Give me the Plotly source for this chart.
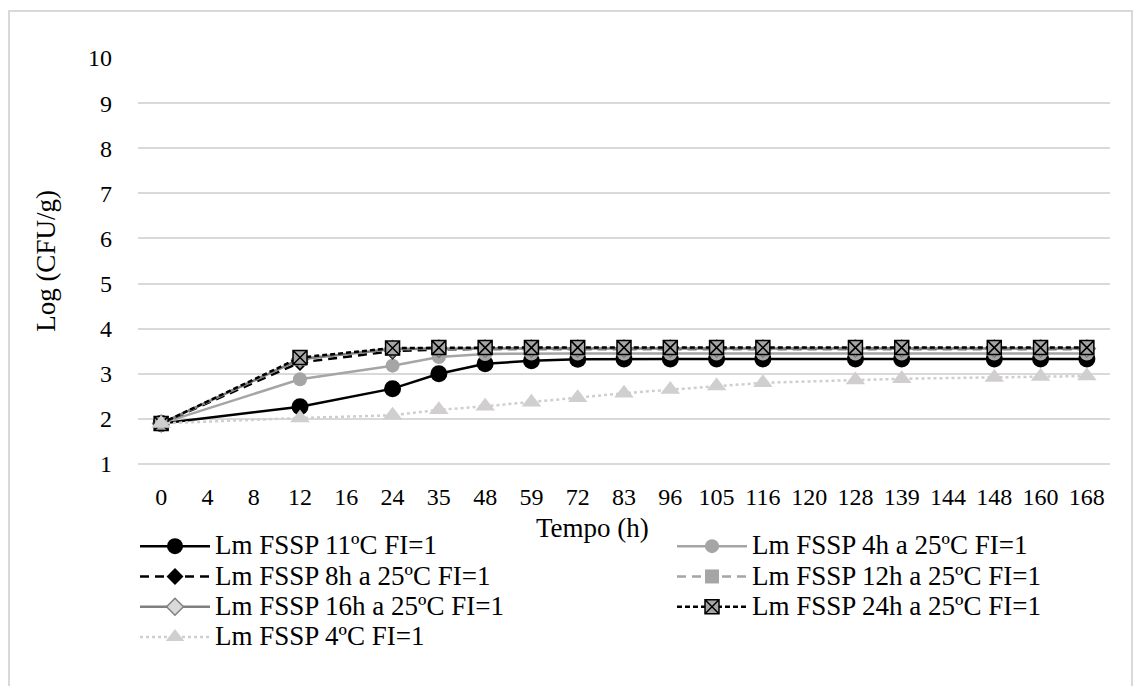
import plotly.graph_objects as go

# Category axis (tick labels) and measured times
tick_labels = ["0", "4", "8", "12", "16", "24", "35", "48", "59", "72", "83", "96",
               "105", "116", "120", "128", "139", "144", "148", "160", "168"]
times = ["0", "12", "24", "35", "48", "59", "72", "83", "96", "105", "116",
         "128", "139", "148", "160", "168"]

series_names = ["Lm FSSP 11ºC FI=1", "Lm FSSP 4h a 25ºC FI=1", "Lm FSSP 8h a 25ºC FI=1",
                "Lm FSSP 12h a 25ºC FI=1", "Lm FSSP 16h a 25ºC FI=1",
                "Lm FSSP 24h a 25ºC FI=1", "Lm FSSP 4ºC FI=1"]

lm_11c = [1.9, 2.27, 2.67, 3.0, 3.22, 3.29, 3.32, 3.33, 3.33, 3.33, 3.33, 3.33, 3.33, 3.33, 3.33, 3.33]
lm_4h = [1.9, 2.88, 3.18, 3.37, 3.44, 3.45, 3.45, 3.45, 3.45, 3.45, 3.45, 3.45, 3.45, 3.45, 3.45, 3.45]
lm_8h = [1.9, 3.25, 3.5, 3.54, 3.55, 3.55, 3.55, 3.55, 3.55, 3.55, 3.55, 3.55, 3.55, 3.55, 3.55, 3.55]
lm_12h = [1.9, 3.33, 3.55, 3.56, 3.56, 3.56, 3.56, 3.56, 3.56, 3.56, 3.56, 3.56, 3.56, 3.56, 3.56, 3.56]
lm_16h = [1.9, 3.32, 3.55, 3.56, 3.56, 3.56, 3.56, 3.56, 3.56, 3.56, 3.56, 3.56, 3.56, 3.56, 3.56, 3.56]
lm_24h = [1.9, 3.36, 3.57, 3.58, 3.58, 3.58, 3.58, 3.58, 3.58, 3.58, 3.58, 3.58, 3.58, 3.58, 3.58, 3.58]
lm_4c = [1.9, 2.02, 2.08, 2.2, 2.28, 2.37, 2.47, 2.57, 2.65, 2.73, 2.8, 2.86, 2.89, 2.92, 2.94, 2.95]

x_title = "Tempo (h)"
y_title = "Log (CFU/g)"

FONT = "Liberation Serif"
LEG_TXT = 27

fig = go.Figure()

def add(name, y, line, marker, legend):
    fig.add_trace(go.Scatter(
        x=times, y=y, name=f'<span style="font-size:{LEG_TXT}px">{name}</span>',
        mode="lines+markers", line=line, marker=marker, legend=legend, connectgaps=True,
    ))

add(series_names[0], lm_11c, dict(color="#000000", width=2.5),
    dict(symbol="circle", size=17, color="#000000"), "legend")
add(series_names[1], lm_4h, dict(color="#a5a5a5", width=2.5),
    dict(symbol="circle", size=14, color="#a5a5a5"), "legend2")
add(series_names[2], lm_8h, dict(color="#000000", width=2.5, dash="9px,6px"),
    dict(symbol="diamond", size=13, color="#000000"), "legend")
add(series_names[3], lm_12h, dict(color="#a5a5a5", width=2.5, dash="9px,6px"),
    dict(symbol="square", size=14, color="#a5a5a5"), "legend2")
add(series_names[4], lm_16h, dict(color="#808080", width=2.5),
    dict(symbol="diamond", size=13, color="#d9d9d9", line=dict(color="#808080", width=1.5)), "legend")
add(series_names[5], lm_24h, dict(color="#000000", width=2.5, dash="5px,3px"),
    dict(symbol="square-x", size=14, color="#a5a5a5", line=dict(color="#000000", width=1.5)), "legend2")
add(series_names[6], lm_4c, dict(color="#d0cece", width=2.5, dash="dot"),
    dict(symbol="triangle-up", size=17, color="#d0cece"), "legend")

L, R, T, B = 138, 23, 58, 222
W, H = 1133, 686
pw, ph = W - L - R, H - T - B

def px(x):
    return (x - L) / pw

def py(y):
    return (H - B - y) / ph

fig.update_layout(
    width=W, height=H,
    margin=dict(l=L, r=R, t=T, b=B),
    paper_bgcolor="white", plot_bgcolor="white",
    font=dict(family=FONT, size=24, color="#000000"),
    showlegend=True,
    legend=dict(x=px(135), y=py(526), xanchor="left", yanchor="top",
                orientation="v", font=dict(family=FONT, size=21, color="#000000"),
                bgcolor="rgba(0,0,0,0)", itemwidth=70, tracegroupgap=0),
    legend2=dict(x=px(672), y=py(526), xanchor="left", yanchor="top",
                 orientation="v", font=dict(family=FONT, size=21, color="#000000"),
                 bgcolor="rgba(0,0,0,0)", itemwidth=70, tracegroupgap=0),
    xaxis=dict(type="category", categoryorder="array", categoryarray=tick_labels,
               tickvals=tick_labels, ticktext=tick_labels,
               range=[-0.5, len(tick_labels) - 0.5],
               showgrid=False, showline=False, zeroline=False, ticks="",
               ticklabelstandoff=16, tickfont=dict(family=FONT, size=24)),
    yaxis=dict(range=[1, 10], dtick=1, tick0=1, showgrid=True, gridcolor="#d9d9d9",
               gridwidth=2, zeroline=False, showline=False, ticks="",
               ticklabelstandoff=25, tickfont=dict(family=FONT, size=24),
               title=dict(text=y_title, font=dict(family=FONT, size=27), standoff=24)),
    annotations=[
        dict(text=x_title, xref="paper", yref="paper", x=px(592), y=py(528),
             xanchor="center", yanchor="middle", showarrow=False,
             font=dict(family=FONT, size=27, color="#000000")),
    ],
    shapes=[
        dict(type="line", xref="paper", yref="paper", x0=0, x1=1, y0=0, y1=0,
             line=dict(color="#d9d9d9", width=2), layer="below"),
        dict(type="rect", xref="paper", yref="paper", x0=px(9), x1=px(1132),
             y0=py(11), y1=py(700), line=dict(color="#d9d9d9", width=2),
             fillcolor="rgba(0,0,0,0)", layer="below"),
    ],
)

fig.write_html("out.html")
